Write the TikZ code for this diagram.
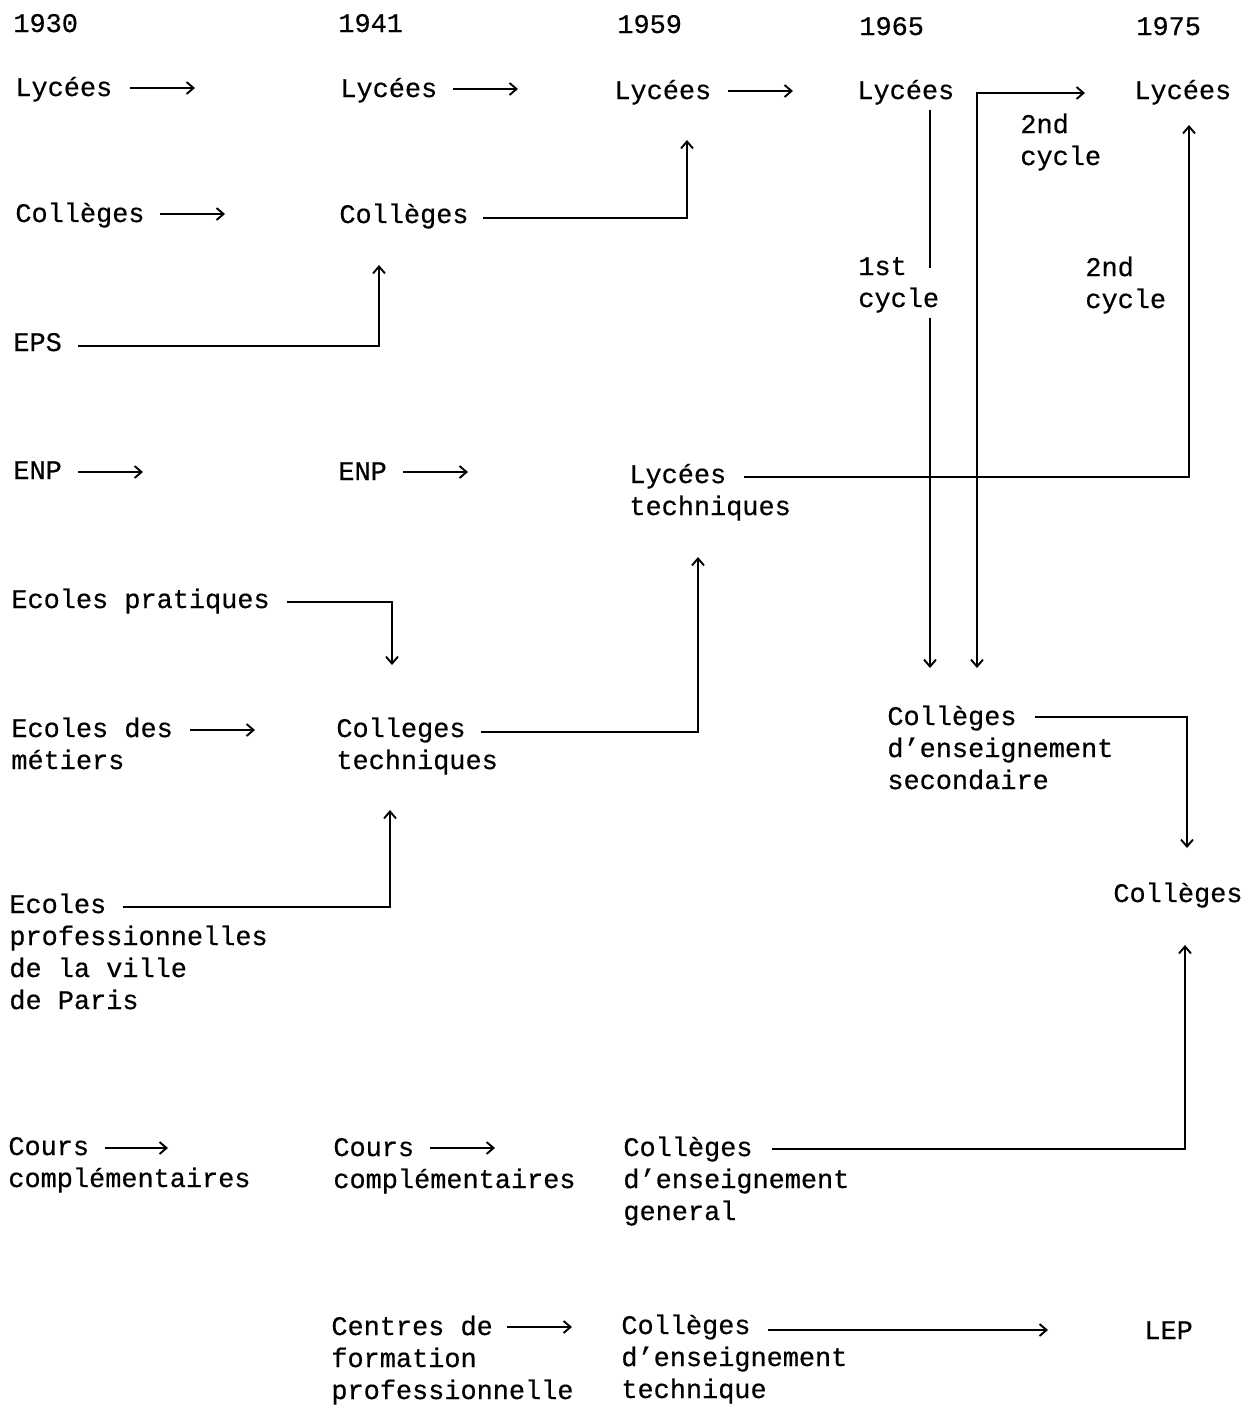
\documentclass[tikz,border=0pt]{standalone}
\usepackage{fontspec}
\newfontfamily\twfont[FakeBold=0.5]{Liberation Mono}
\usetikzlibrary{arrows.meta}
\tikzset{
  lbl/.style={anchor=base west, inner sep=0pt, align=left,
    font=\twfont\fontsize{13.45pt}{16pt}\selectfont},
  arr/.style={line width=0.95pt, -{Straight Barb[length=3.5pt,width=6pt]}},
  ln/.style={line width=0.95pt},
}
\begin{document}
\begin{tikzpicture}[x=0.5pt,y=-0.5pt]
\useasboundingbox (0,0) rectangle (1258,1405);
% (multi-line nodes are placed at the baseline of their last line)
% years
\node[lbl] (y30) at (13,32) {1930};
\node[lbl] (y41) at (338,32) {1941};
\node[lbl] (y59) at (617,33) {1959};
\node[lbl] (y65) at (859,35) {1965};
\node[lbl] (y75) at (1136,35) {1975};
% 1930 column
\node[lbl] (ly30) at (15,96) {Lycées};
\node[lbl] (co30) at (15,222) {Collèges};
\node[lbl] (eps) at (13,351) {EPS};
\node[lbl] (enp30) at (13,479) {ENP};
\node[lbl] (ep) at (11,608) {Ecoles pratiques};
\node[lbl] (ed) at (11,769) {Ecoles des\\métiers};
\node[lbl] (eprof) at (9,1009) {Ecoles\\professionnelles\\de la ville\\de Paris};
\node[lbl] (cours30) at (8,1187) {Cours\\complémentaires};
% 1941 column
\node[lbl] (ly41) at (340,97) {Lycées};
\node[lbl] (co41) at (339,223) {Collèges};
\node[lbl] (enp41) at (338,480) {ENP};
\node[lbl] (ct) at (336,769) {Colleges\\techniques};
\node[lbl] (cours41) at (333,1188) {Cours\\complémentaires};
\node[lbl] (cfp) at (331,1399) {Centres de\\formation\\professionnelle};
% 1959 column
\node[lbl] (ly59) at (614,99) {Lycées};
\node[lbl] (lyt) at (629,515) {Lycées\\techniques};
\node[lbl] (ceg) at (623,1220) {Collèges\\d’enseignement\\general};
\node[lbl] (cet) at (621,1398) {Collèges\\d’enseignement\\technique};
% 1965 column
\node[lbl] (ly65) at (857,99) {Lycées};
\node[lbl] (cyc1) at (858,307) {1st\\cycle};
\node[lbl] (cyc2a) at (1020,165) {2nd\\cycle};
\node[lbl] (ces) at (887,789) {Collèges\\d’enseignement\\secondaire};
% 1975 column
\node[lbl] (ly75) at (1134,99) {Lycées};
\node[lbl] (cyc2b) at (1085,308) {2nd\\cycle};
\node[lbl] (co75) at (1113,902) {Collèges};
\node[lbl] (lep) at (1144,1339) {LEP};
% connectors
\draw[arr] (ly30.base west) ++(115,-8) -- ++(65,0);
\draw[arr] (ly41.base west) ++(113,-8) -- ++(65,0);
\draw[arr] (ly59.base west) ++(114,-8) -- ++(65,0);
\draw[arr] (co30.base west) ++(145,-8) -- ++(65,0);
\draw[arr] (co41.base west) ++(144,-5) -- ++(204,0) -- ++(0,-78);
\draw[arr] (eps.base west) ++(65,-5) -- ++(301,0) -- ++(0,-81);
\draw[arr] (enp30.base west) ++(65,-7) -- ++(65,0);
\draw[arr] (enp41.base west) ++(65,-8) -- ++(65,0);
\draw[arr] (lyt.base west) ++(115,-38) -- ++(445,0) -- ++(0,-352);
\draw[arr] (ep.base west) ++(276,-6) -- ++(105,0) -- ++(0,63);
\draw[arr] (ed.base west) ++(179,-39) -- ++(65,0);
\draw[arr] (ct.base west) ++(145,-37) -- ++(217,0) -- ++(0,-175);
\draw[arr] (eprof.base west) ++(114,-102) -- ++(267,0) -- ++(0,-97);
\draw[ln] (ly65.base west) ++(73,11) -- ++(0,158);
\draw[arr] (cyc1.base west) ++(72,11) -- ++(0,350);
\draw[line width=0.95pt, {Straight Barb[length=3.5pt,width=6pt]}-{Straight Barb[length=3.5pt,width=6pt]}]
  (ces.base west) ++(90,-121) -- ++(0,-575) -- ++(108,0);
\draw[arr] (ces.base west) ++(148,-72) -- ++(152,0) -- ++(0,131);
\draw[arr] (ceg.base west) ++(149,-71) -- ++(413,0) -- ++(0,-204);
\draw[arr] (cet.base west) ++(147,-68) -- ++(280,0);
\draw[arr] (cours30.base west) ++(97,-39) -- ++(63,0);
\draw[arr] (cours41.base west) ++(97,-40) -- ++(65,0);
\draw[arr] (cfp.base west) ++(176,-72) -- ++(65,0);
\end{tikzpicture}
\end{document}
